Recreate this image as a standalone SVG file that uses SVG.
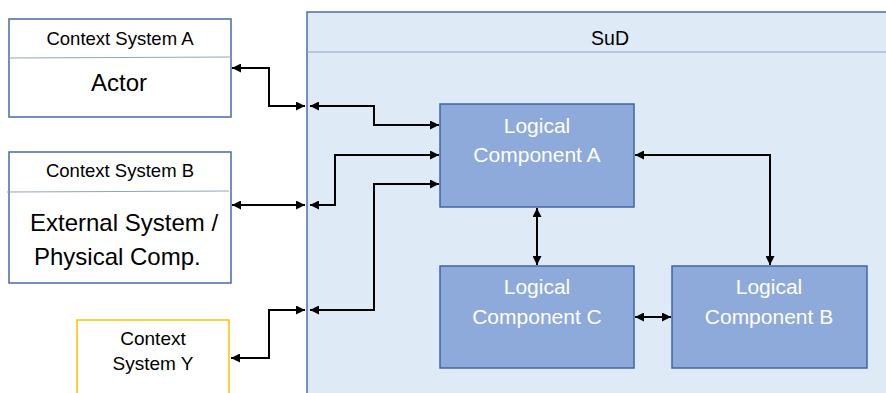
<svg xmlns="http://www.w3.org/2000/svg" width="886" height="393" viewBox="0 0 886 393">
  <defs>
    <marker id="arr" viewBox="0 0 10 10" refX="10" refY="5" markerWidth="4.5" markerHeight="4.5" orient="auto-start-reverse" markerUnits="strokeWidth">
      <path d="M0,0 L10,5 L0,10 z" fill="#000"/>
    </marker>
  </defs>
  <style>
    .ctx { fill: #ffffff; stroke: #4a6aa8; stroke-width: 1.5; }
    .ctxy { fill: #ffffff; stroke: #ffc000; stroke-width: 1.5; }
    .div { stroke: #8fa4c0; stroke-width: 1; }
    .sud { fill: #deeaf6; stroke: #4a6fa5; stroke-width: 1.5; }
    .lc { fill: #8eaadb; stroke: #3f65a8; stroke-width: 1.5; }
    .t { font-family: "Liberation Sans", Arial, sans-serif; fill: #000; text-anchor: middle; }
    .ts { font-family: "Liberation Sans", Arial, sans-serif; fill: #000; text-anchor: start; font-size: 24px; }
    .tw { font-family: "Liberation Sans", Arial, sans-serif; fill: #ffffff; text-anchor: middle; font-size: 21px; }
    .c { fill: none; stroke: #000; stroke-width: 2; marker-start: url(#arr); marker-end: url(#arr); }
  </style>

  <g id="sud">
    <rect class="sud" x="307" y="12" width="590" height="400"/>
    <line class="div" x1="307" y1="52" x2="886" y2="52"/>
    <text class="t" x="610" y="45" font-size="19.5">SuD</text>
  </g>

  <g id="ctx-a">
    <rect class="ctx" x="9" y="19" width="222" height="98"/>
    <line class="div" x1="9" y1="58" x2="231" y2="57"/>
    <text class="t" x="120" y="45" font-size="18.5">Context System A</text>
    <text class="t" x="119" y="91" font-size="24">Actor</text>
  </g>

  <g id="ctx-b">
    <rect class="ctx" x="9" y="152" width="222" height="131"/>
    <line class="div" x1="7" y1="192" x2="229" y2="191"/>
    <text class="t" x="120" y="177" font-size="18.5">Context System B</text>
    <text class="ts" x="30" y="231">External System /</text>
    <text class="ts" x="34" y="265">Physical Comp.</text>
  </g>

  <g id="ctx-y">
    <rect class="ctxy" x="77" y="320" width="152" height="90"/>
    <text class="t" x="153" y="345" font-size="19">Context</text>
    <text class="t" x="153" y="370" font-size="19">System Y</text>
  </g>

  <g id="lc-a">
    <rect class="lc" x="440" y="104" width="194" height="103"/>
    <text class="tw" x="537" y="133">Logical</text>
    <text class="tw" x="537" y="162">Component A</text>
  </g>

  <g id="lc-c">
    <rect class="lc" x="440" y="266" width="194" height="102"/>
    <text class="tw" x="537" y="294">Logical</text>
    <text class="tw" x="537" y="324">Component C</text>
  </g>

  <g id="lc-b">
    <rect class="lc" x="672" y="266" width="195" height="102"/>
    <text class="tw" x="769" y="294">Logical</text>
    <text class="tw" x="769" y="324">Component B</text>
  </g>

  <g id="connectors">
    <polyline class="c" points="232,68 269,68 269,106 305,106"/>
    <polyline class="c" points="310,106 374,106 374,125 439,125"/>
    <polyline class="c" points="232,205 305,205"/>
    <polyline class="c" points="310,205 335,205 335,155 439,155"/>
    <polyline class="c" points="231,358 269,358 269,310 305,310"/>
    <polyline class="c" points="310,310 374,310 374,184 439,184"/>
    <polyline class="c" points="635,155 770,155 770,265"/>
    <polyline class="c" points="537,208 537,265"/>
    <polyline class="c" points="635,317 671,317"/>
  </g>
</svg>
